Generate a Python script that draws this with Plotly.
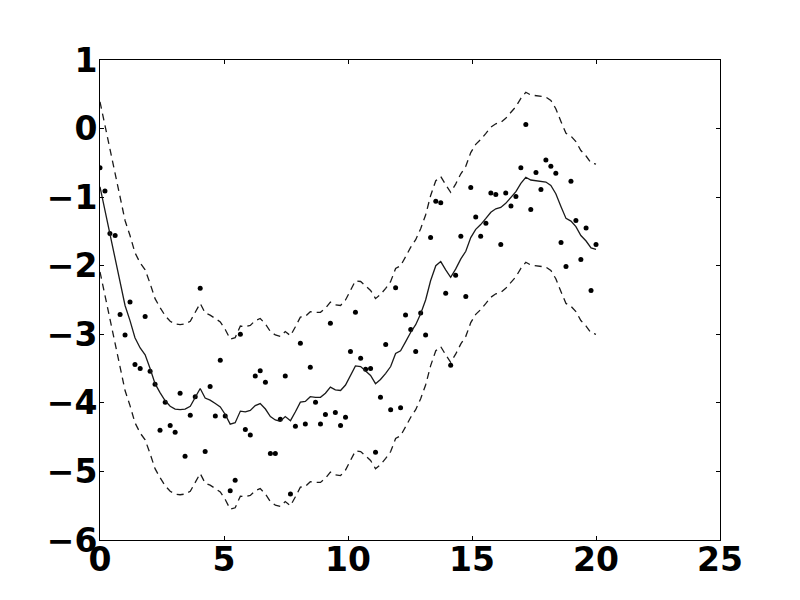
import plotly.graph_objects as go

# sample positions along x
x = [0.00, 0.20, 0.40, 0.61, 0.81, 1.01, 1.21, 1.41, 1.62, 1.82,
     2.02, 2.22, 2.42, 2.63, 2.83, 3.03, 3.23, 3.43, 3.64, 3.84,
     4.04, 4.24, 4.44, 4.65, 4.85, 5.05, 5.25, 5.45, 5.66, 5.86,
     6.06, 6.26, 6.46, 6.67, 6.87, 7.07, 7.27, 7.47, 7.68, 7.88,
     8.08, 8.28, 8.48, 8.69, 8.89, 9.09, 9.29, 9.49, 9.70, 9.90,
     10.10, 10.30, 10.51, 10.71, 10.91, 11.11, 11.31, 11.52, 11.72, 11.92,
     12.12, 12.32, 12.53, 12.73, 12.93, 13.13, 13.33, 13.54, 13.74, 13.94,
     14.14, 14.34, 14.55, 14.75, 14.95, 15.15, 15.35, 15.56, 15.76, 15.96,
     16.16, 16.36, 16.57, 16.77, 16.97, 17.17, 17.37, 17.58, 17.78, 17.98,
     18.18, 18.38, 18.59, 18.79, 18.99, 19.19, 19.39, 19.60, 19.80, 20.00]

# observed points
y_obs = [-0.57, -0.91, -1.53, -1.56, -2.71, -3.01, -2.53, -3.44, -3.50, -2.74,
         -3.54, -3.73, -4.40, -3.99, -4.33, -4.43, -3.86, -4.78, -4.18, -3.91,
         -2.33, -4.71, -3.76, -4.19, -3.38, -4.19, -5.28, -5.13, -3.00, -4.39,
         -4.47, -3.61, -3.53, -3.70, -4.74, -4.74, -4.24, -3.61, -5.33, -4.34,
         -3.13, -4.31, -3.48, -3.99, -4.31, -4.17, -2.84, -4.14, -4.33, -4.21,
         -3.25, -2.68, -3.35, -3.51, -3.50, -4.72, -3.92, -3.15, -4.10, -2.32,
         -4.07, -2.72, -2.93, -3.25, -2.69, -3.01, -1.59, -1.06, -1.08, -2.40,
         -3.45, -2.14, -1.57, -2.45, -0.86, -1.29, -1.57, -1.38, -0.94, -0.96,
         -1.69, -0.94, -1.13, -0.99, -0.57, 0.06, -1.18, -0.64, -0.89, -0.46,
         -0.55, -0.65, -1.66, -2.01, -0.77, -1.34, -1.91, -1.45, -2.36, -1.69]

# smoothed curve
y_mid = [-0.85, -1.20, -1.53, -1.90, -2.25, -2.58, -2.80, -3.05, -3.20, -3.30,
         -3.50, -3.72, -3.85, -3.97, -4.05, -4.09, -4.10, -4.09, -4.05, -3.92,
         -3.79, -3.93, -3.96, -4.01, -4.06, -4.17, -4.31, -4.29, -4.12, -4.13,
         -4.11, -4.04, -4.01, -4.09, -4.20, -4.25, -4.27, -4.20, -4.26, -4.13,
         -3.99, -3.98, -3.91, -3.92, -3.92, -3.86, -3.77, -3.81, -3.82, -3.74,
         -3.59, -3.46, -3.47, -3.53, -3.60, -3.72, -3.66, -3.57, -3.47, -3.28,
         -3.24, -3.11, -2.97, -2.86, -2.70, -2.50, -2.22, -2.00, -1.94, -2.06,
         -2.17, -2.05, -1.90, -1.79, -1.59, -1.47, -1.40, -1.31, -1.22, -1.17,
         -1.15, -1.09, -1.01, -0.92, -0.80, -0.71, -0.75, -0.76, -0.77, -0.78,
         -0.83, -0.95, -1.14, -1.31, -1.35, -1.43, -1.56, -1.64, -1.74, -1.76]

# half width of the dashed band
band = 1.24
y_upper = [v + band for v in y_mid]
y_lower = [v - band for v in y_mid]

fig = go.Figure()
fig.add_trace(go.Scatter(x=x, y=y_obs, mode="markers",
                         marker=dict(color="black", size=5)))
fig.add_trace(go.Scatter(x=x, y=y_mid, mode="lines",
                         line=dict(color="#1a1a1a", width=1.3)))
for yb in (y_upper, y_lower):
    fig.add_trace(go.Scatter(x=x, y=yb, mode="lines",
                             line=dict(color="#1a1a1a", width=1.3, dash="7px,5px")))

tick_font = dict(family="DejaVu Sans", size=33, color="black", weight="bold")
axis_common = dict(showgrid=False, zeroline=False, showline=True, linecolor="black",
                   linewidth=1, mirror="allticks", ticks="inside", ticklen=4,
                   tickcolor="black", tickfont=tick_font)

# page body adds an 8px offset, so the margins are shifted to compensate
fig.update_layout(width=800, height=600, showlegend=False,
                  plot_bgcolor="white", paper_bgcolor="white",
                  margin=dict(l=92, r=88, t=52, b=68))
fig.update_xaxes(range=[0, 25], dtick=5, tick0=0, ticklabelstandoff=-10, **axis_common)
fig.update_yaxes(range=[-6, 1], dtick=1, tick0=0, ticklabelstandoff=-5, **axis_common)

fig.write_html("out.html")
